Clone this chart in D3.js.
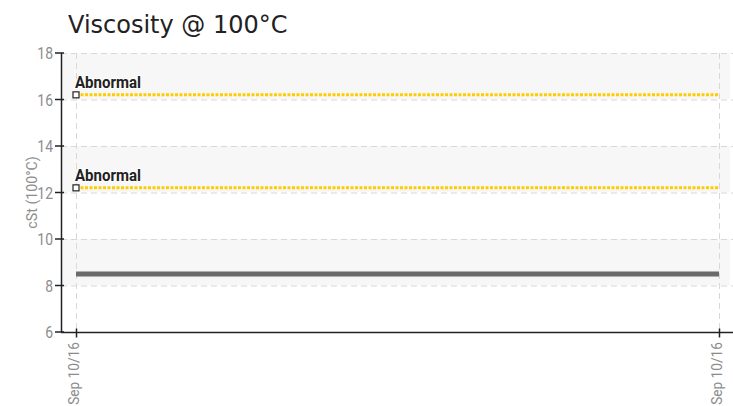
<!DOCTYPE html>
<html><head><meta charset="utf-8">
<script src="https://cdn.jsdelivr.net/npm/d3@7"></script>
<style>body{margin:0;background:#fff}svg{display:block}</style>
</head><body><svg id="c" width="733" height="406"></svg>
<script>
const categories = ["Sep 10/16", "Sep 10/16"];
const viscosity = [8.5, 8.5];
const abnormalHigh = [16.2, 16.2];
const abnormalLow = [12.2, 12.2];
const yTicks = [6, 8, 10, 12, 14, 16, 18];
const limitLabel = "Abnormal";

const svg = d3.select("#c");
const L = 61, R = 733, T = 53, B = 332;
const cond = "Roboto,'DejaVu Sans Condensed',sans-serif";

const x = d3.scaleLinear().domain([0, categories.length - 1]).range([76, 719]);
const y = d3.scaleLinear().domain([6, 18]).range([B, T]);

// alternate bands
for (let i = 0; i < yTicks.length - 1; i++) {
  if ((yTicks.length - 2 - i) % 2 === 0) {
    svg.append("rect").attr("x", L).attr("y", y(yTicks[i + 1]))
      .attr("width", R - L - 3).attr("height", y(yTicks[i]) - y(yTicks[i + 1]))
      .attr("fill", "#f7f7f7");
  }
}
// horizontal grid
svg.append("g").selectAll("line").data(yTicks.filter(t => t > 6)).join("line")
  .attr("x1", L).attr("x2", R).attr("y1", d => y(d) + 0.5).attr("y2", d => y(d) + 0.5)
  .attr("stroke", "#d8d8d8").attr("stroke-dasharray", "6,4");
// vertical grid
svg.append("g").selectAll("line").data(categories.map((c, i) => i)).join("line")
  .attr("x1", d => x(d) + 0.5).attr("x2", d => x(d) + 0.5).attr("y1", T).attr("y2", B)
  .attr("stroke", "#d8d8d8").attr("stroke-dasharray", "6,4");

// y axis
const gy = svg.append("g");
gy.append("line").attr("x1", L + 0.5).attr("x2", L + 0.5).attr("y1", T).attr("y2", B)
  .attr("stroke", "#222").attr("stroke-width", 1.5);
const yt = gy.selectAll("g").data(yTicks).join("g").attr("transform", d => `translate(0,${y(d)})`);
yt.append("line").attr("x1", 55).attr("x2", 64).attr("stroke", "#222").attr("stroke-width", 1.5);
yt.append("text").attr("transform", "translate(53,0) scale(0.82,1)").attr("text-anchor", "end")
  .attr("dy", "0.36em").text(d => d)
  .attr("font-family", cond).attr("font-size", 17).attr("fill", "#8c8c8c");

// x axis
const xAxis = d3.axisBottom(x).tickValues(categories.map((c, i) => i)).tickFormat(i => categories[i]).tickSize(0);
const gx = svg.append("g").attr("transform", `translate(0,${B + 0.5})`).call(xAxis);
gx.select(".domain").remove();
gx.append("line").attr("x1", L).attr("x2", R).attr("stroke", "#222").attr("stroke-width", 1.5);
gx.selectAll(".tick").append("line").attr("y1", -4).attr("y2", 5).attr("stroke", "#222").attr("stroke-width", 1.5);
gx.selectAll(".tick text").attr("font-family", cond).attr("font-size", 15.5).attr("fill", "#8c8c8c")
  .attr("transform", "rotate(-90) scale(0.88,1)").attr("text-anchor", "end").attr("x", -11).attr("y", 0).attr("dy", "0.13em");

// lines
const line = d3.line().x((d, i) => x(i)).y(d => y(d));
svg.append("path").datum(viscosity).attr("d", line).attr("fill", "none")
  .attr("stroke", "#6b6b6b").attr("stroke-width", 5);
[abnormalHigh, abnormalLow].forEach(s => {
  svg.append("path").datum(s).attr("d", line).attr("fill", "none")
    .attr("stroke", "#ffcc00").attr("stroke-width", 3).attr("stroke-dasharray", "3,1.5");
  svg.append("rect").attr("x", x(0) - 3).attr("y", y(s[0]) - 3).attr("width", 6).attr("height", 6)
    .attr("fill", "#fff").attr("stroke", "#222").attr("stroke-width", 1.2);
  svg.append("text").attr("transform", `translate(${x(0) - 1},${y(s[0]) - 7}) scale(0.94,1)`).text(limitLabel)
    .attr("font-family", cond).attr("font-size", 16).attr("font-weight", 700)
    .attr("fill", "#222").attr("stroke", "#fff").attr("stroke-width", 2).attr("paint-order", "stroke");
});

// titles
svg.append("text").attr("x", 68).attr("y", 33).text("Viscosity @ 100°C")
  .attr("font-family", "'DejaVu Sans',Verdana,sans-serif").attr("font-size", 24).attr("fill", "#222");
svg.append("text").attr("transform", `translate(37,${(T + B) / 2}) rotate(-90) scale(0.95,1)`).attr("text-anchor", "middle")
  .text("cSt (100°C)").attr("font-family", cond).attr("font-size", 15).attr("fill", "#8c8c8c");
</script></body></html>
